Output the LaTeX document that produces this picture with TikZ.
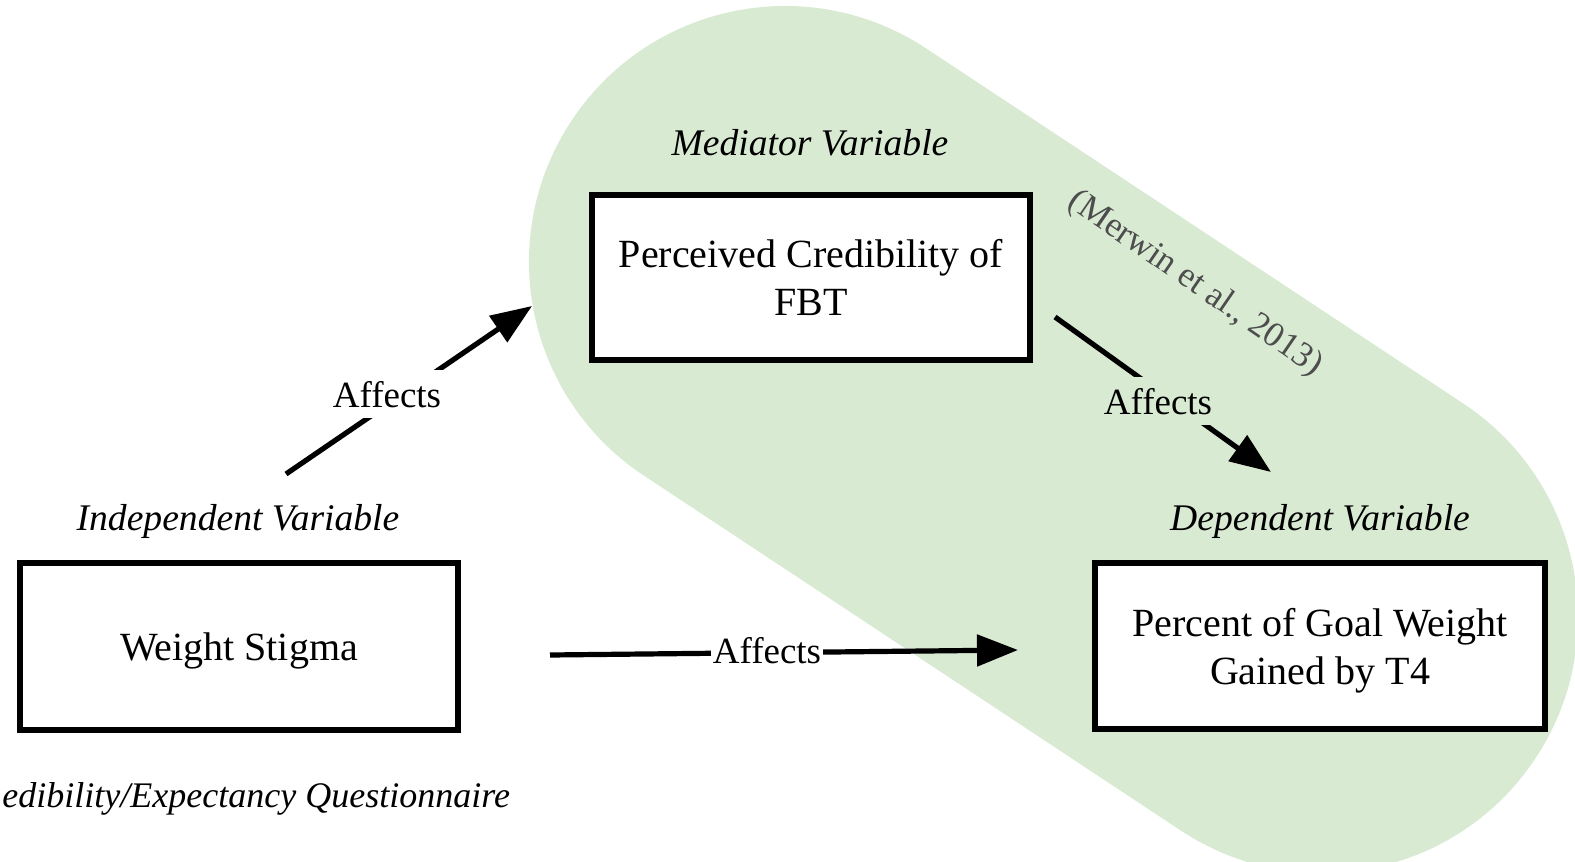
\documentclass[tikz,border=0pt]{standalone}
\usepackage{fontspec}
\setmainfont{Liberation Serif}
\usetikzlibrary{arrows.meta}
\definecolor{capsulegreen}{HTML}{D9EAD3}
\definecolor{citegray}{HTML}{4D4D4D}

\begin{document}
\begin{tikzpicture}[x=0.5pt,y=-0.5pt,>={Triangle[length=20.5pt,width=15.5pt]}]
  \tikzstyle{var}=[draw,line width=3pt,fill=white,align=center,text depth=0pt,font=\fontsize{20}{24}\selectfont]
  \tikzstyle{role}=[anchor=base,font=\fontsize{18.8}{22}\selectfont\itshape]
  \tikzstyle{affects}=[anchor=base,inner sep=5.5pt,font=\fontsize{18.5}{22}\selectfont]
  \tikzstyle{link}=[->,line width=2.6pt]
  \useasboundingbox (0,0) rectangle (1575,862);
  \clip (0,0) rectangle (1575,862);
  % shaded region behind mediator and outcome
  \draw[line width=256pt,line cap=round,capsulegreen] (785,262) -- (1322,617);
  \node[rotate=-34.5,text=citegray,font=\fontsize{17.6}{22}\selectfont] (cite) at (1195,284) {(Merwin et al., 2013)};
  % free ends of the connectors
  \coordinate (stigmaOut) at (286,474);
  \coordinate (credIn) at (532,306);
  \coordinate (credOut) at (1055,317);
  \coordinate (goalIn) at (1271,472);
  \coordinate (directOut) at (550,655);
  \coordinate (directIn) at (1018,650);
  \draw[link] (stigmaOut) -- (credIn);
  \draw[link] (credOut) -- (goalIn);
  \draw[link] (directOut) -- (directIn);
  \node[affects,fill=white] (aff1) at (387,407) {Affects};
  \node[affects,fill=capsulegreen] (aff2) at (1158,414) {Affects};
  \node[affects,fill=white,inner xsep=1pt,inner ysep=4pt] (aff3) at (767,663) {Affects};
  % variables
  \node[var,minimum width=219pt,minimum height=83.5pt] (stigma) at (239,646.5) {Weight Stigma};
  \node[var,minimum width=219pt,minimum height=82.5pt] (cred) at (811,277.5) {Perceived Credibility of\\FBT};
  \node[var,minimum width=225pt,minimum height=83pt] (goal) at (1320,646) {Percent of Goal Weight\\Gained by T4};
  \node[role] (indep) at (238,530) {Independent Variable};
  \node[role] (med) at (810,155) {Mediator Variable};
  \node[role] (dep) at (1320,530) {Dependent Variable};
  \node[role,anchor=base west,inner xsep=0pt,font=\fontsize{18}{22}\selectfont\itshape] (credq) at (2,807) {edibility/Expectancy Questionnaire};
\end{tikzpicture}
\end{document}
